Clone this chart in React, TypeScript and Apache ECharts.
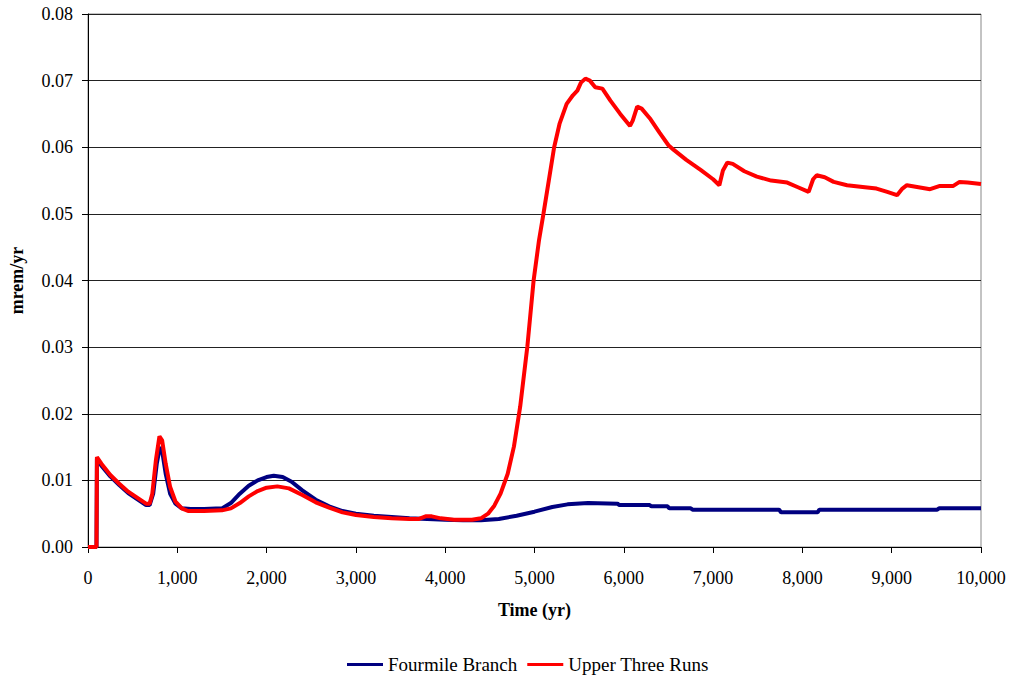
import React, { useEffect, useRef } from "react";
import * as echarts from "echarts";

const fourmileTimes = [0, 95, 100, 150, 250, 350, 450, 550, 650, 690, 730, 770, 805, 835, 870, 920, 980, 1050, 1150, 1300, 1500, 1600, 1700, 1800, 1900, 2000, 2080, 2180, 2280, 2400, 2550, 2700, 2850, 3000, 3200, 3400, 3600, 3800, 4000, 4200, 4400, 4600, 4800, 5000, 5200, 5370, 5600, 5930, 5950, 6290, 6310, 6490, 6510, 6750, 6770, 7740, 7760, 8170, 8190, 9510, 9530, 10000];
const fourmileValues = [0, 0, 0.0133, 0.0122, 0.0106, 0.0093, 0.0081, 0.0072, 0.0063, 0.0063, 0.008, 0.0125, 0.015, 0.014, 0.011, 0.008, 0.0065, 0.0058, 0.0057, 0.0057, 0.0058, 0.0066, 0.008, 0.0092, 0.01, 0.0105, 0.0107, 0.0105, 0.0098, 0.0085, 0.0071, 0.0061, 0.0054, 0.005, 0.0047, 0.0045, 0.0043, 0.0042, 0.0041, 0.004, 0.004, 0.0042, 0.0047, 0.0053, 0.006, 0.0064, 0.0066, 0.0065, 0.0063, 0.0063, 0.0061, 0.0061, 0.0058, 0.0058, 0.0056, 0.0056, 0.0052, 0.0052, 0.0056, 0.0056, 0.0058, 0.0058];

const upperTimes = [0, 95, 100, 150, 250, 350, 450, 550, 650, 690, 720, 760, 800, 830, 870, 920, 980, 1050, 1120, 1300, 1500, 1600, 1700, 1800, 1900, 2000, 2120, 2250, 2400, 2550, 2700, 2850, 3000, 3200, 3400, 3600, 3700, 3780, 3850, 3950, 4100, 4300, 4400, 4480, 4550, 4620, 4700, 4770, 4840, 4920, 4990, 5050, 5100, 5160, 5220, 5280, 5360, 5430, 5480, 5520, 5570, 5620, 5680, 5760, 5850, 5960, 6070, 6100, 6150, 6200, 6300, 6400, 6500, 6560, 6700, 6860, 7000, 7070, 7110, 7160, 7220, 7350, 7490, 7650, 7830, 7950, 8070, 8120, 8160, 8250, 8350, 8500, 8700, 8830, 8950, 9060, 9120, 9170, 9300, 9430, 9540, 9690, 9760, 9850, 10000];
const upperValues = [0, 0, 0.0135, 0.0125, 0.0108, 0.0095, 0.0083, 0.0074, 0.0065, 0.0065, 0.008, 0.013, 0.0166, 0.016, 0.0125, 0.009, 0.0068, 0.0058, 0.0054, 0.0054, 0.0055, 0.0058, 0.0066, 0.0076, 0.0084, 0.0089, 0.0091, 0.0088, 0.0078, 0.0067, 0.0059, 0.0052, 0.0048, 0.0045, 0.0043, 0.0042, 0.0042, 0.0046, 0.0046, 0.0043, 0.0041, 0.0041, 0.0043, 0.005, 0.0062, 0.008, 0.011, 0.0151, 0.0211, 0.0301, 0.04, 0.046, 0.05, 0.055, 0.06, 0.0635, 0.0665, 0.0678, 0.0685, 0.0697, 0.0703, 0.07, 0.069, 0.0688, 0.067, 0.065, 0.0632, 0.064, 0.0661, 0.0658, 0.0642, 0.0622, 0.0603, 0.0596, 0.0581, 0.0566, 0.0552, 0.0543, 0.0565, 0.0577, 0.0575, 0.0564, 0.0556, 0.055, 0.0547, 0.054, 0.0533, 0.0552, 0.0558, 0.0555, 0.0548, 0.0543, 0.054, 0.0538, 0.0533, 0.0528, 0.0538, 0.0543, 0.054, 0.0537, 0.0542, 0.0542, 0.0548, 0.0547, 0.0545];

const seriesNames = ["Fourmile Branch", "Upper Three Runs"];
const seriesColors = ["#000080", "#FF0000"];

const FONT = "Liberation Serif";

export default function App() {
  const ref = useRef<HTMLDivElement>(null);
  useEffect(() => {
    if (!ref.current) return;
    const chart = echarts.init(ref.current, null, { renderer: "svg" });
    const fourmile = fourmileTimes.map((t, i) => [t, fourmileValues[i]]);
    const upper = upperTimes.map((t, i) => [t, upperValues[i]]);
    chart.setOption({
      animation: false,
      backgroundColor: "#ffffff",
      textStyle: { fontFamily: FONT },
      grid: {
        left: 87,
        right: 29,
        top: 14,
        bottom: 132,
        show: true,
        borderColor: "#888888",
        borderWidth: 1,
      },
      legend: {
        data: seriesNames.map((n) => ({ name: n, icon: "rect" })),
        left: 342,
        top: 650,
        itemWidth: 36,
        itemHeight: 3,
        itemGap: 10,
        textStyle: { fontFamily: FONT, fontSize: 19, color: "#000" },
      },
      xAxis: {
        type: "value",
        min: 0,
        max: 10000,
        interval: 1000,
        name: "Time (yr)",
        nameLocation: "middle",
        nameGap: 54,
        nameTextStyle: { fontFamily: FONT, fontSize: 18, fontWeight: "bold", color: "#000" },
        axisLine: { show: true, lineStyle: { color: "#000", width: 1 } },
        axisTick: { show: true, length: 6, lineStyle: { color: "#000" } },
        splitLine: { show: false },
        axisLabel: {
          margin: 22,
          fontFamily: FONT,
          fontSize: 18,
          color: "#000",
          formatter: (v: number) => v.toLocaleString("en-US"),
        },
      },
      yAxis: {
        type: "value",
        min: 0,
        max: 0.08,
        interval: 0.01,
        name: "mrem/yr",
        nameLocation: "middle",
        nameGap: 62,
        nameTextStyle: { fontFamily: FONT, fontSize: 18, fontWeight: "bold", color: "#000" },
        axisLine: { show: true, lineStyle: { color: "#000", width: 1 } },
        axisTick: { show: true, length: 6, lineStyle: { color: "#000" } },
        splitLine: { show: true, lineStyle: { color: "#222", width: 1 } },
        axisLabel: {
          margin: 15,
          fontFamily: FONT,
          fontSize: 18,
          color: "#000",
          formatter: (v: number) => v.toFixed(2),
        },
      },
      series: [
        {
          name: seriesNames[0],
          type: "line",
          data: fourmile,
          symbol: "none",
          color: seriesColors[0],
          lineStyle: { color: seriesColors[0], width: 4 },
          z: 2,
        },
        {
          name: seriesNames[1],
          type: "line",
          data: upper,
          symbol: "none",
          color: seriesColors[1],
          lineStyle: { color: seriesColors[1], width: 4 },
          z: 3,
        },
      ],
    });
    return () => chart.dispose();
  }, []);
  return (
    <div
      ref={ref}
      style={{ position: "absolute", left: 0, top: 0, width: 1010, height: 679 }}
    />
  );
}
